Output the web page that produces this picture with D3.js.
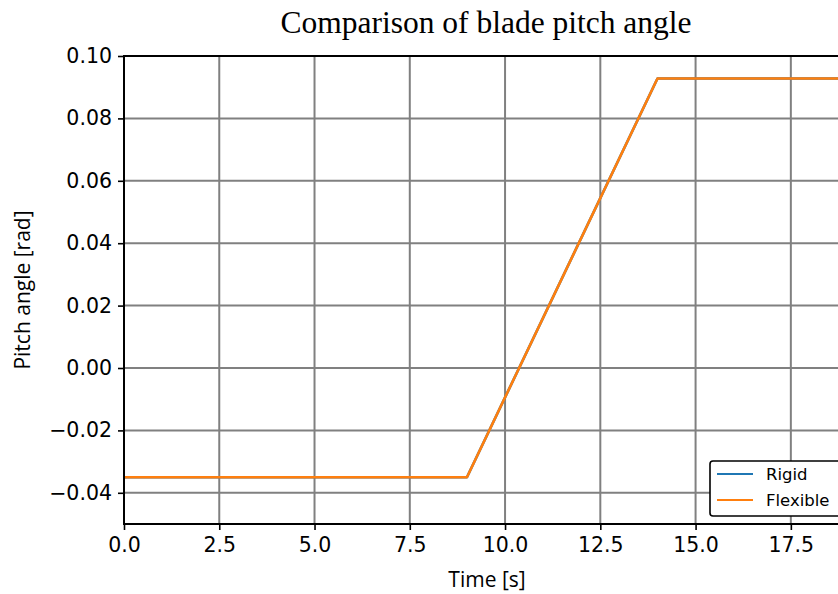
<!DOCTYPE html>
<html>
<head>
<meta charset="utf-8">
<script src="https://cdn.jsdelivr.net/npm/d3@7"></script>
<style>
  html, body { margin: 0; padding: 0; background: #fff; overflow: hidden; }
  svg { display: block; }
</style>
</head>
<body>
<svg id="chart" width="838" height="594"></svg>
<script>
// ---- data ----
const time = [0, 9.0, 14.0, 19.0];
const rigid = [-0.035, -0.035, 0.0928, 0.0928];
const flexible = [-0.035, -0.035, 0.0928, 0.0928];
const seriesNames = ["Rigid", "Flexible"];
const seriesColors = ["#1f77b4", "#ff7f0e"];
const xTicks = [0, 2.5, 5, 7.5, 10, 12.5, 15, 17.5];
const yTicks = [-0.04, -0.02, 0.00, 0.02, 0.04, 0.06, 0.08, 0.10];
const titleText = "Comparison of blade pitch angle";
const xLabel = "Time [s]";
const yLabel = "Pitch angle [rad]";

// ---- layout ----
const W = 838, H = 594;
const mLeft = 124, mRight = 848, mTop = 56, mBottom = 524;

const svg = d3.select("#chart");
const x = d3.scaleLinear().domain([0, 19]).range([mLeft, mRight]);
const y = d3.scaleLinear().domain([-0.05, 0.10]).range([mBottom, mTop]);

// grid
const grid = svg.append("g");
grid.selectAll("line.gx").data(xTicks).join("line")
  .attr("x1", d => x(d)).attr("x2", d => x(d))
  .attr("y1", mTop).attr("y2", mBottom)
  .attr("stroke", "#808080").attr("stroke-width", 2);
grid.selectAll("line.gy").data(yTicks).join("line")
  .attr("x1", mLeft).attr("x2", mRight)
  .attr("y1", d => y(d)).attr("y2", d => y(d))
  .attr("stroke", "#808080").attr("stroke-width", 2);

// lines
const datasets = [rigid, flexible];
const line = d3.line().x((d, i) => x(time[i])).y(d => y(d));
datasets.forEach((vals, k) => {
  svg.append("path").datum(vals)
    .attr("d", line)
    .attr("fill", "none")
    .attr("stroke", seriesColors[k])
    .attr("stroke-width", 2.6)
    .attr("stroke-linejoin", "round");
});

// spines
svg.append("rect").attr("x", mLeft).attr("y", mTop)
  .attr("width", mRight - mLeft).attr("height", mBottom - mTop)
  .attr("fill", "none").attr("stroke", "#000").attr("stroke-width", 2);

// axes
const fmtX = d3.format(".1f");
const fmtY = v => (v < 0 ? "\u2212" : "") + d3.format(".2f")(Math.abs(v));
const xAxis = d3.axisBottom(x).tickValues(xTicks).tickFormat(fmtX).tickSizeOuter(0).tickSize(6).tickPadding(7);
const yAxis = d3.axisLeft(y).tickValues(yTicks).tickFormat(fmtY).tickSizeOuter(0).tickSize(6).tickPadding(6);

const gx = svg.append("g").attr("transform", `translate(0,${mBottom})`).call(xAxis);
const gy = svg.append("g").attr("transform", `translate(${mLeft},0)`).call(yAxis);
[gx, gy].forEach(g => {
  g.select(".domain").remove();
  g.selectAll(".tick line").attr("stroke", "#000").attr("stroke-width", 1.6);
  g.selectAll(".tick text").attr("fill", "#000")
    .style("font-family", "'DejaVu Sans', sans-serif").style("font-size", "20.5px");
});

// title
svg.append("text").attr("x", (mLeft + mRight) / 2).attr("y", 33)
  .attr("text-anchor", "middle")
  .style("font-family", "'Liberation Serif', 'DejaVu Serif', serif")
  .style("font-size", "31.5px")
  .text(titleText);

// axis labels
svg.append("text").attr("x", 487).attr("y", 587)
  .attr("text-anchor", "middle")
  .style("font-family", "'Open Sans', sans-serif").style("font-size", "21px")
  .text(xLabel);
svg.append("text")
  .attr("transform", `translate(30,${(mTop + mBottom) / 2}) rotate(-90)`)
  .attr("text-anchor", "middle")
  .style("font-family", "'Open Sans', sans-serif").style("font-size", "21px")
  .text(yLabel);

// legend
const lg = svg.append("g");
lg.append("rect").attr("x", 710).attr("y", 461).attr("width", 140).attr("height", 55)
  .attr("rx", 3).attr("fill", "#fff").attr("stroke", "#000").attr("stroke-width", 1.6);
seriesNames.forEach((name, i) => {
  const ly = 474 + i * 26;
  lg.append("line").attr("x1", 717).attr("x2", 753).attr("y1", ly).attr("y2", ly)
    .attr("stroke", seriesColors[i]).attr("stroke-width", 2.2);
  lg.append("text").attr("x", 766).attr("y", ly + 6)
    .style("font-family", "'DejaVu Sans', sans-serif").style("font-size", "16.5px")
    .text(name);
});
</script>
</body>
</html>
